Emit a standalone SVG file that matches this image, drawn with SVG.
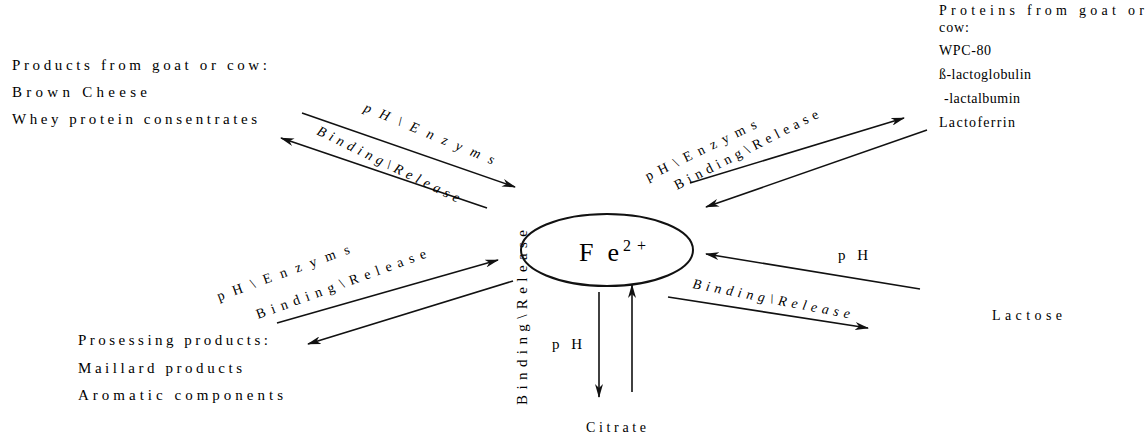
<svg xmlns="http://www.w3.org/2000/svg" width="1147" height="436" viewBox="0 0 1147 436">
<style>
text{font-family:"Liberation Serif","Times New Roman",serif;fill:#000}
.t{font-size:15px}
.l{font-size:14px}
.i{font-style:italic}
.c{stroke:#111;stroke-width:1.6;fill:none;marker-end:url(#ah)}
</style>
<defs>
<marker id="ah" viewBox="0 0 14 8" refX="13" refY="4" markerWidth="14" markerHeight="8" markerUnits="userSpaceOnUse" orient="auto">
<path d="M0,0 L14,4 L0,8 L4,4 z" fill="#111"/>
</marker>
</defs>
<rect width="1147" height="436" fill="#fff"/>
<g id="connectors">
<line class="c" x1="302" y1="113" x2="515" y2="187"/>
<line class="c" x1="487" y1="208" x2="281" y2="138"/>
<line class="c" x1="277" y1="323" x2="498" y2="260"/>
<line class="c" x1="513" y1="281" x2="308" y2="344"/>
<line class="c" x1="690" y1="183" x2="904" y2="118"/>
<line class="c" x1="927" y1="130" x2="706" y2="207"/>
<line class="c" x1="920" y1="289" x2="706" y2="254"/>
<line class="c" x1="668" y1="297" x2="868" y2="328"/>
<line class="c" x1="599" y1="292" x2="599" y2="397"/>
<line class="c" x1="632" y1="392" x2="632" y2="285"/>
<text class="l i" transform="translate(363,111) rotate(22.5)" textLength="140" lengthAdjust="spacing">pH\Enzyms</text>
<text class="l i" transform="translate(316,134) rotate(26)" textLength="157" lengthAdjust="spacing">Binding\Release</text>
<text class="l" transform="translate(648,181) rotate(-26)" textLength="122" lengthAdjust="spacing">pH\Enzyms</text>
<text class="l" transform="translate(677,190) rotate(-27)" textLength="160" lengthAdjust="spacing">Binding\Release</text>
<text class="l" transform="translate(219,301) rotate(-20)" textLength="140" lengthAdjust="spacing">pH\Enzyms</text>
<text class="l" transform="translate(258,319) rotate(-20)" textLength="180" lengthAdjust="spacing">Binding\Release</text>
<text class="t" x="838" y="260" textLength="30" lengthAdjust="spacing">pH</text>
<text class="l i" transform="translate(692,288) rotate(11)" textLength="160" lengthAdjust="spacing">Binding\Release</text>
<text class="t" transform="translate(527,405) rotate(-90)" textLength="175" lengthAdjust="spacing">Binding\Release</text>
<text class="t" x="552" y="349" textLength="30" lengthAdjust="spacing">pH</text>
</g>
<g id="fe">
<ellipse cx="607" cy="250" rx="86" ry="36" fill="none" stroke="#111" stroke-width="2"/>
<text x="579" y="261" style="font-size:26px" textLength="40" lengthAdjust="spacing">Fe</text>
<text x="623" y="251" style="font-size:16px" textLength="23" lengthAdjust="spacing">2+</text>
</g>
<g id="goat-cow-products">
<text class="t" x="12" y="70" textLength="255" lengthAdjust="spacing">Products from goat or cow:</text>
<text class="t" x="12" y="97" textLength="135" lengthAdjust="spacing">Brown Cheese</text>
<text class="t" x="12" y="124" textLength="245" lengthAdjust="spacing">Whey protein consentrates</text>
</g>
<g id="proteins">
<text class="l" x="939" y="15" textLength="205" lengthAdjust="spacing">Proteins from goat or</text>
<text class="l" x="939" y="32" textLength="30" lengthAdjust="spacing">cow:</text>
<text class="l" x="939" y="55" textLength="52" lengthAdjust="spacing">WPC-80</text>
<text class="l" x="939" y="79" textLength="92" lengthAdjust="spacing">ß-lactoglobulin</text>
<text class="l" x="944" y="103" textLength="76" lengthAdjust="spacing">-lactalbumin</text>
<text class="l" x="939" y="127" textLength="76" lengthAdjust="spacing">Lactoferrin</text>
</g>
<g id="processing">
<text class="t" x="78" y="345" textLength="190" lengthAdjust="spacing">Prosessing products:</text>
<text class="t" x="78" y="373" textLength="164" lengthAdjust="spacing">Maillard products</text>
<text class="t" x="78" y="400" textLength="205" lengthAdjust="spacing">Aromatic components</text>
</g>
<g id="lactose">
<text class="l" x="992" y="320" textLength="70" lengthAdjust="spacing">Lactose</text>
</g>
<g id="citrate">
<text class="l" x="586" y="432" textLength="60" lengthAdjust="spacing">Citrate</text>
</g>
</svg>
